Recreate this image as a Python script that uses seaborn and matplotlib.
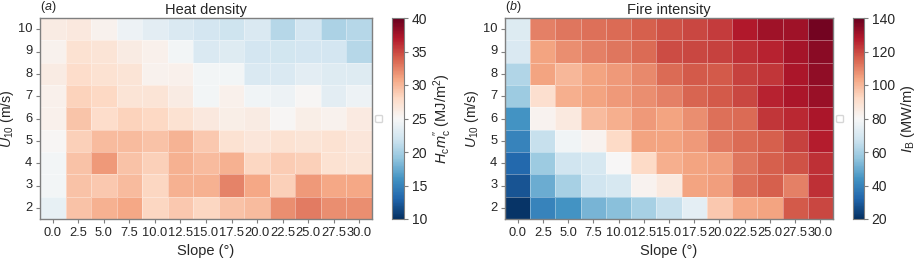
import numpy as np
import pandas as pd
import matplotlib
matplotlib.use("Agg")
import matplotlib.pyplot as plt
import seaborn as sns

slopes = [0.0, 2.5, 5.0, 7.5, 10.0, 12.5, 15.0, 17.5, 20.0, 22.5, 25.0, 27.5, 30.0]
wind = [10, 9, 8, 7, 6, 5, 4, 3, 2]

heat_density = [
    [26.2, 26.6, 25.6, 24.2, 23.4, 22.7, 22.3, 21.9, 22.7, 20.7, 22.3, 20.3, 20.7],
    [25.6, 27.3, 27.0, 26.2, 25.8, 24.6, 22.7, 23.1, 22.3, 22.1, 22.3, 22.3, 20.7],
    [26.2, 27.7, 27.3, 27.0, 25.6, 25.8, 24.6, 24.6, 22.7, 22.7, 23.4, 23.1, 23.1],
    [25.8, 28.5, 28.1, 27.0, 27.0, 26.2, 24.6, 25.8, 24.5, 24.2, 25.2, 23.4, 24.2],
    [25.8, 29.3, 27.7, 28.5, 28.1, 27.3, 26.6, 26.0, 26.2, 25.2, 26.0, 25.6, 26.4],
    [25.2, 28.6, 29.8, 29.8, 29.4, 30.2, 29.0, 27.3, 26.8, 27.3, 27.0, 27.3, 26.8],
    [24.6, 29.4, 31.5, 29.4, 28.6, 30.3, 29.8, 30.3, 28.2, 28.8, 28.6, 27.3, 27.0],
    [24.6, 29.4, 29.0, 29.8, 28.2, 30.3, 30.3, 32.4, 30.8, 28.6, 31.5, 30.8, 30.8],
    [23.8, 29.4, 30.3, 30.8, 28.2, 29.0, 28.2, 29.4, 29.8, 32.0, 32.8, 32.0, 32.0],
]

fire_intensity = [
    [72, 110, 112, 113, 114, 116, 118, 120, 122, 128, 131, 131, 138],
    [71, 104, 108, 110, 112, 114, 119, 120, 121, 124, 126, 130, 134],
    [62, 104, 100, 104, 106, 109, 114, 117, 117, 121, 123, 129, 133],
    [58, 90, 102, 104, 106, 108, 110, 115, 117, 120, 126, 129, 132],
    [44, 82, 86, 99, 102, 106, 104, 108, 113, 114, 123, 125, 129],
    [40, 66, 78, 82, 92, 104, 104, 106, 111, 114, 116, 121, 127],
    [33, 58, 68, 70, 80, 92, 102, 104, 105, 112, 116, 118, 124],
    [28, 50, 60, 68, 70, 82, 86, 104, 105, 113, 116, 110, 124],
    [21, 40, 44, 52, 55, 60, 66, 74, 96, 103, 104, 117, 120],
]

x_labels = [f"{s:.1f}" for s in slopes]
y_labels = [str(w) for w in wind]

sns.set_style("ticks")
plt.rcParams["font.family"] = ["Liberation Sans", "DejaVu Sans"]
plt.rcParams["mathtext.fontset"] = "custom"
plt.rcParams["mathtext.rm"] = "Liberation Sans"
plt.rcParams["mathtext.it"] = "Liberation Sans:italic"
plt.rcParams["mathtext.bf"] = "Liberation Sans:bold"

fig = plt.figure(figsize=(9.16, 2.62), dpi=100)
axA = fig.add_axes([40/916, 43/262, 332/916, 201/262])
caxA = fig.add_axes([392/916, 43/262, 12/916, 201/262])
axB = fig.add_axes([505/916, 43/262, 328/916, 201/262])
caxB = fig.add_axes([853/916, 43/262, 11/916, 201/262])

dfA = pd.DataFrame(heat_density, index=y_labels, columns=x_labels)
dfB = pd.DataFrame(fire_intensity, index=y_labels, columns=x_labels)

edge = (1, 1, 1, 0.35)
sns.heatmap(dfA, ax=axA, cbar_ax=caxA, cmap="RdBu_r", vmin=10, vmax=40,
            linewidths=0.5, linecolor=edge)
sns.heatmap(dfB, ax=axB, cbar_ax=caxB, cmap="RdBu_r", vmin=20, vmax=140,
            linewidths=0.5, linecolor=edge)

spine_col = "#7f7f7f"
for ax, title, letter, cax, clabel, cticks in [
    (axA, "Heat density", "a", caxA,
     r"$H_\mathrm{c}m^{\prime\prime}_\mathrm{c}$ (MJ/m$^2$)", [10, 15, 20, 25, 30, 35, 40]),
    (axB, "Fire intensity", "b", caxB, r"$I_\mathrm{B}$ (MW/m)", [20, 40, 60, 80, 100, 120, 140]),
]:
    for sp in ax.spines.values():
        sp.set_visible(True)
        sp.set_color(spine_col)
        sp.set_linewidth(1.0)
    ax.tick_params(axis="both", labelsize=9.3, length=3, color=spine_col, pad=2.5)
    ax.set_xticklabels(x_labels, rotation=0)
    ax.set_yticklabels(y_labels, rotation=0)
    ax.set_xlabel("Slope (°)", fontsize=10.5, labelpad=4)
    ax.set_ylabel(r"$U_{10}$ (m/s)", fontsize=10.2, labelpad=1)
    ax.set_title(title, fontsize=10.5, pad=3)
    ax.text(0.0, 1.015, "(" + f"$\\it{{{letter}}}$" + ")", transform=ax.transAxes,
            fontsize=9, ha="left", va="bottom")
    ax.legend(handles=[], labels=[], loc="center left",
              bbox_to_anchor=(1.0, 0.5), fontsize=5, borderpad=0.5)
    cax.set_yticks(cticks)
    cax.tick_params(labelsize=10, length=3, color=spine_col, pad=2.5)
    cax.set_ylabel(clabel, fontsize=10.5, labelpad=3)
    for sp in cax.spines.values():
        sp.set_visible(True)
        sp.set_color(spine_col)

fig.savefig("out.png", dpi=100)
